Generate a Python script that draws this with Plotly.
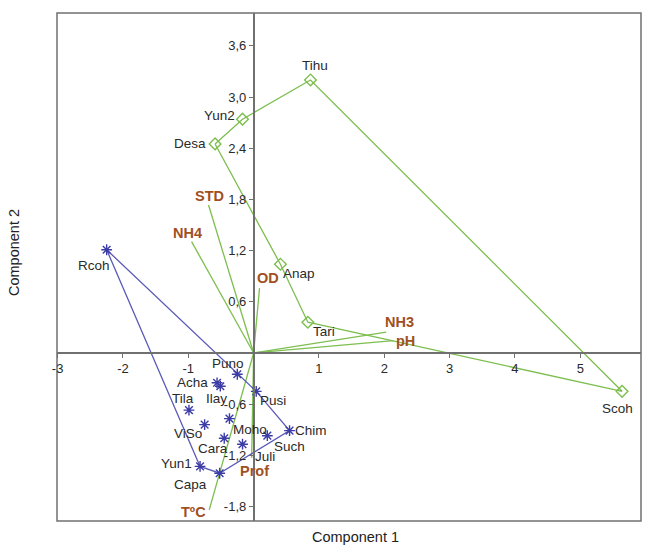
import plotly.graph_objects as go

# ---------------- data ----------------
# Group 1 sites (stars)
g1_names = ["Rcoh", "Puno", "Acha", "Ilay", "Pusi", "Tila", "ViSo", "Moho",
            "Cara", "Juli", "Such", "Chim", "Yun1", "Capa"]
g1_x = [-2.25, -0.25, -0.56, -0.51, 0.04, -0.99, -0.75, -0.37,
        -0.45, -0.17, 0.21, 0.55, -0.82, -0.52]
g1_y = [1.21, -0.25, -0.35, -0.39, -0.45, -0.67, -0.84, -0.77,
        -1.00, -1.07, -0.97, -0.91, -1.33, -1.41]
g1_hull = ["Rcoh", "Puno", "Pusi", "Chim", "Capa", "Yun1", "Rcoh"]

# Group 2 sites (diamonds)
g2_names = ["Tihu", "Yun2", "Desa", "Anap", "Tari", "Scoh"]
g2_x = [0.87, -0.17, -0.59, 0.41, 0.83, 5.64]
g2_y = [3.20, 2.74, 2.45, 1.04, 0.36, -0.45]
g2_hull = ["Desa", "Yun2", "Tihu", "Scoh", "Tari", "Anap", "Desa"]

# Variable loadings (biplot vectors)
var_names = ["STD", "NH4", "OD", "NH3", "pH", "Prof", "TºC"]
var_x = [-0.69, -0.95, 0.09, 2.03, 2.14, -0.03, -0.68]
var_y = [1.735, 1.305, 0.76, 0.243, 0.144, -1.23, -1.84]

# Axis ticks
x_ticks = [-3, -2, -1, 1, 2, 3, 4, 5]
x_ticklabels = ["-3", "-2", "-1", "1", "2", "3", "4", "5"]
y_ticks = [-1.8, -1.2, -0.6, 0.6, 1.2, 1.8, 2.4, 3.0, 3.6]
y_ticklabels = ["-1,8", "-1,2", "-0,6", "0,6", "1,2", "1,8", "2,4", "3,0", "3,6"]

x_title = "Component 1"
y_title = "Component 2"

# ---------------- styling ----------------
X_RANGE = [-3.01, 5.93]
Y_RANGE = [-1.97, 3.985]
GREEN = "#7DBE4F"
BLUE = "#5A5AB8"
BLUE_MK = "#3C3CA6"
BROWN = "#A0501E"
AXIS = "#707070"
TXT = "#2A2A2A"
FONT = "Liberation Sans, Arial, sans-serif"

# label offsets in pixels (dx right, dy down)
label_off = {
    "Rcoh": (-13, 16), "Puno": (-9, -11), "Acha": (-25, 0), "Ilay": (-4, 12),
    "Pusi": (17, 9), "Tila": (-6, -12), "ViSo": (-17, 9), "Moho": (21, 11),
    "Cara": (-11, 10), "Juli": (22, 12), "Such": (22, 11), "Chim": (21, 0),
    "Yun1": (-24, -3), "Capa": (-29, 11),
    "Tihu": (5, -14), "Yun2": (-23, -4), "Desa": (-25, 0), "Anap": (19, 9),
    "Tari": (16, 9), "Scoh": (-5, 17),
}
var_off = {
    "STD": (1, -9), "NH4": (-4, -9), "OD": (8, -10), "NH3": (13, -10),
    "pH": (12, 0), "Prof": (3, 13), "TºC": (-16, 2),
}

fig = go.Figure()

# loading vectors
for n, vx, vy in zip(var_names, var_x, var_y):
    fig.add_trace(go.Scatter(x=[0, vx], y=[0, vy], mode="lines",
                             line=dict(color=GREEN, width=1.3),
                             hoverinfo="skip", showlegend=False))

# hull polygons
g1_idx = {n: i for i, n in enumerate(g1_names)}
g2_idx = {n: i for i, n in enumerate(g2_names)}
fig.add_trace(go.Scatter(x=[g1_x[g1_idx[n]] for n in g1_hull],
                         y=[g1_y[g1_idx[n]] for n in g1_hull],
                         mode="lines", line=dict(color=BLUE, width=1.3),
                         hoverinfo="skip", showlegend=False))
fig.add_trace(go.Scatter(x=[g2_x[g2_idx[n]] for n in g2_hull],
                         y=[g2_y[g2_idx[n]] for n in g2_hull],
                         mode="lines", line=dict(color=GREEN, width=1.3),
                         hoverinfo="skip", showlegend=False))

# points
fig.add_trace(go.Scatter(x=g1_x, y=g1_y, mode="markers", text=g1_names,
                         marker=dict(symbol="asterisk-open", size=9,
                                     color=BLUE_MK,
                                     line=dict(color=BLUE_MK, width=1.4)),
                         showlegend=False))
fig.add_trace(go.Scatter(x=g2_x, y=g2_y, mode="markers", text=g2_names,
                         marker=dict(symbol="diamond-open", size=9,
                                     color=GREEN,
                                     line=dict(color=GREEN, width=1.4)),
                         showlegend=False))

annotations = []
for names, xs, ys in ((g1_names, g1_x, g1_y), (g2_names, g2_x, g2_y)):
    for n, x, y in zip(names, xs, ys):
        dx, dy = label_off[n]
        annotations.append(dict(x=x, y=y, text=n, showarrow=False,
                                xshift=dx, yshift=-dy, borderpad=0,
                                font=dict(family=FONT, size=13.5, color=TXT)))
for n, x, y in zip(var_names, var_x, var_y):
    dx, dy = var_off[n]
    annotations.append(dict(x=x, y=y, text="<b>%s</b>" % n, showarrow=False,
                            xshift=dx, yshift=-dy, borderpad=0,
                            font=dict(family=FONT, size=14.5, color=BROWN)))

annotations.append(dict(x=0.5, y=0, xref="paper", yref="paper", text=x_title,
                        showarrow=False, yanchor="top", yshift=-6, xshift=6,
                        font=dict(family=FONT, size=14.5, color="#222222")))
annotations.append(dict(x=0, y=0.5, xref="paper", yref="paper", text=y_title,
                        showarrow=False, textangle=-90, xanchor="right",
                        xshift=-33, yshift=14,
                        font=dict(family=FONT, size=14.5, color="#222222")))

x_pos = (0 - Y_RANGE[0]) / (Y_RANGE[1] - Y_RANGE[0])
y_pos = (0 - X_RANGE[0]) / (X_RANGE[1] - X_RANGE[0])

fig.update_layout(
    width=645, height=548,
    margin=dict(l=57, r=4, t=13, b=27),
    paper_bgcolor="white", plot_bgcolor="white",
    font=dict(family=FONT, size=13, color=TXT),
    xaxis=dict(range=X_RANGE, anchor="free", position=x_pos,
               showgrid=False, zeroline=False, showline=True,
               linecolor=AXIS, linewidth=1.5,
               ticks="outside", ticklen=4, tickcolor=AXIS,
               tickvals=x_ticks, ticktext=x_ticklabels,
               tickfont=dict(family=FONT, size=13, color=TXT)),
    yaxis=dict(range=Y_RANGE, anchor="free", position=y_pos,
               showgrid=False, zeroline=False, showline=True,
               linecolor=AXIS, linewidth=1.5,
               ticks="outside", ticklen=4, tickcolor=AXIS,
               tickvals=y_ticks, ticktext=y_ticklabels,
               tickfont=dict(family=FONT, size=13, color=TXT)),
    shapes=[dict(type="rect", xref="paper", yref="paper", x0=0, y0=0, x1=1, y1=1,
                 line=dict(color=AXIS, width=1.5), layer="below")],
    annotations=annotations,
)

fig.write_html("out.html",
               config={"displayModeBar": False},
               post_script="document.body.style.margin='0px';"
                           "document.body.style.overflow='hidden';")
